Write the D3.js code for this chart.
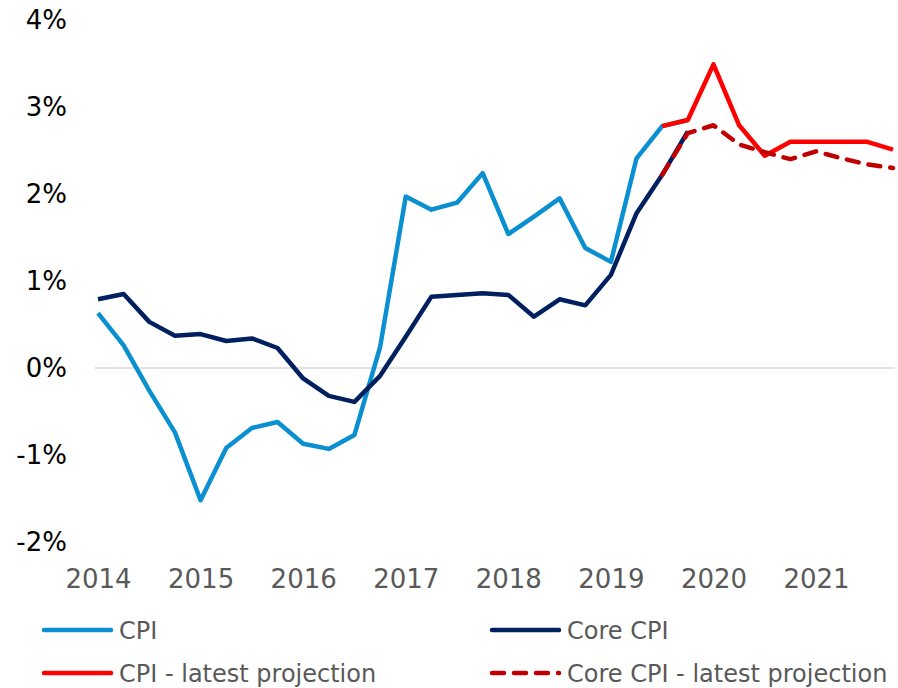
<!DOCTYPE html>
<html>
<head>
<meta charset="utf-8">
<script src="https://cdn.jsdelivr.net/npm/d3@7"></script>
<style>
  body { margin: 0; background: #fff; }
  svg { display: block; }
</style>
</head>
<body>
<div id="chart"></div>
<script>
// quarterly, 2014 Q1 .. 2021 Q4
const years = [2014, 2015, 2016, 2017, 2018, 2019, 2020, 2021];
const yTicks = [-2, -1, 0, 1, 2, 3, 4];

// index = quarter number from 2014 Q1
const cpi = [0.63, 0.26, -0.26, -0.74, -1.52, -0.92, -0.69, -0.62, -0.87, -0.93, -0.77, 0.24,
  1.97, 1.82, 1.90, 2.24, 1.54, 1.74, 1.95, 1.38, 1.22, 2.41, 2.78, 2.85];
const core = [0.79, 0.85, 0.53, 0.37, 0.39, 0.31, 0.34, 0.23, -0.12, -0.32, -0.39, -0.09,
  0.36, 0.82, 0.84, 0.86, 0.84, 0.59, 0.79, 0.72, 1.07, 1.78, 2.22, 2.72];
const cpiProjStart = 22;
const cpiProj = [2.78, 2.85, 3.49, 2.79, 2.44, 2.60, 2.60, 2.60, 2.60, 2.51];
const coreProjStart = 22;
const coreProj = [2.22, 2.70, 2.79, 2.57, 2.48, 2.40, 2.49, 2.41, 2.34, 2.30];

const W = 898, H = 688;
const svg = d3.select('#chart').append('svg')
  .attr('width', W)
  .attr('height', H);

const x = d3.scaleLinear().domain([0, 31]).range([98, 893]);
const y = d3.scaleLinear().domain([-2, 4]).range([542, 20]);

// zero line
svg.append('line')
  .attr('x1', 95).attr('x2', 895)
  .attr('y1', y(0)).attr('y2', y(0))
  .attr('stroke', '#d9d9d9')
  .attr('stroke-width', 1.5);

// y labels
const yAxis = d3.axisLeft(y).tickValues(yTicks).tickSize(0).tickPadding(0)
  .tickFormat(d => d + '%');
const gy = svg.append('g').attr('transform', 'translate(67,0)').call(yAxis);
gy.select('.domain').remove();
gy.selectAll('text')
  .attr('font-family', 'DejaVu Sans, Verdana, sans-serif')
  .attr('font-size', 26)
  .attr('fill', '#000');

// x labels
const xAxis = d3.axisBottom(x).tickValues(years.map((yr, i) => i * 4)).tickSize(0).tickPadding(0)
  .tickFormat((d, i) => years[i]);
const gx = svg.append('g').attr('transform', 'translate(0,588)').call(xAxis);
gx.select('.domain').remove();
gx.selectAll('text')
  .attr('dy', 0)
  .attr('font-family', 'DejaVu Sans, Verdana, sans-serif')
  .attr('font-size', 26)
  .attr('fill', '#595959');

const line = d3.line().x(d => x(d.i)).y(d => y(d.v));
const toPts = (arr, start) => arr.map((v, k) => ({i: start + k, v: v}));

const series = [
  {data: toPts(cpi, 0), color: '#0a8fd0', dash: null},
  {data: toPts(core, 0), color: '#002060', dash: null},
  {data: toPts(cpiProj, cpiProjStart), color: '#ff0000', dash: null},
  {data: toPts(coreProj, coreProjStart), color: '#c00000', dash: '12,10'}
];

series.forEach(s => {
  svg.append('path')
    .attr('d', line(s.data))
    .attr('fill', 'none')
    .attr('stroke', s.color)
    .attr('stroke-width', 4.5)
    .attr('stroke-linejoin', 'round')
    .attr('stroke-linecap', s.dash ? 'round' : 'butt')
    .attr('stroke-dasharray', s.dash);
});

// legend
const legend = [
  {name: 'CPI', color: '#0a8fd0', dash: null, lx: 44, ly: 630},
  {name: 'Core CPI', color: '#002060', dash: null, lx: 492, ly: 630},
  {name: 'CPI - latest projection', color: '#ff0000', dash: null, lx: 44, ly: 673},
  {name: 'Core CPI - latest projection', color: '#c00000', dash: '12,10', lx: 492, ly: 673}
];
const lg = svg.append('g').selectAll('g').data(legend).enter().append('g');
lg.append('line')
  .attr('x1', d => d.lx).attr('x2', d => d.lx + 67)
  .attr('y1', d => d.ly).attr('y2', d => d.ly)
  .attr('stroke', d => d.color)
  .attr('stroke-width', 4.5)
  .attr('stroke-linecap', 'round')
  .attr('stroke-dasharray', d => d.dash);
lg.append('text')
  .attr('x', d => d.lx + 75)
  .attr('y', d => d.ly + 8.5)
  .attr('font-family', 'DejaVu Sans, Verdana, sans-serif')
  .attr('font-size', 24)
  .attr('fill', '#595959')
  .text(d => d.name);
</script>
</body>
</html>
